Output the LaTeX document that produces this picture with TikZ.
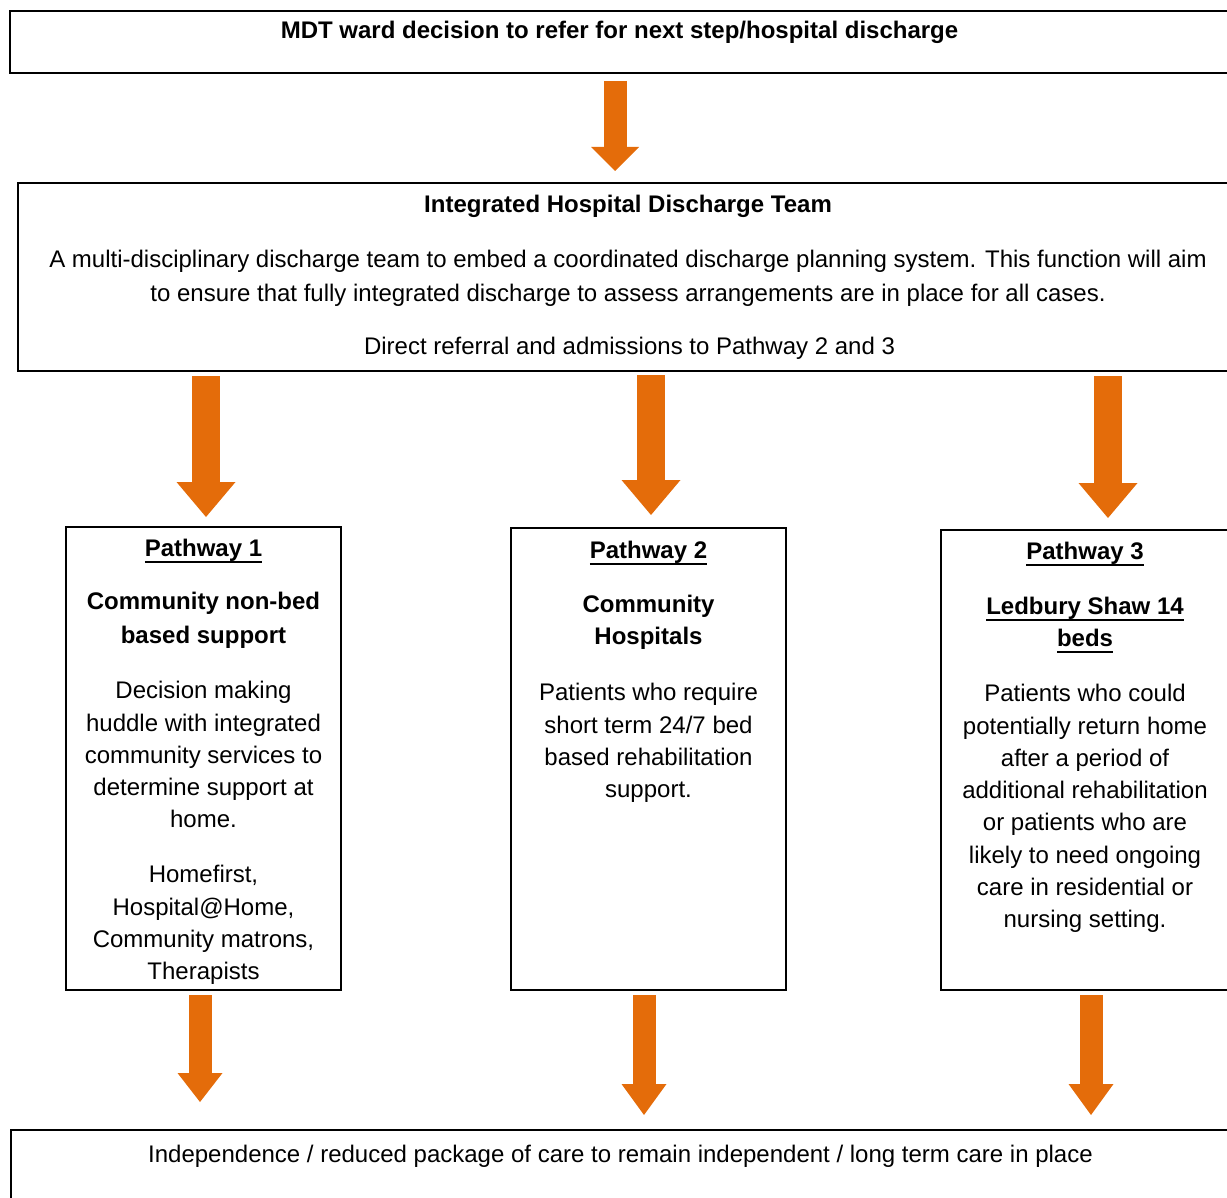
\documentclass[tikz,border=0pt]{standalone}
\usepackage{fontspec}
\setmainfont{Liberation Sans}
\usetikzlibrary{arrows.meta,fit}
\definecolor{arrorange}{RGB}{228,108,10}
\newcommand\myul[1]{\setbox0\hbox{#1}\rlap{\rule[-5.3pt]{\wd0}{1.6pt}}\box0}
\begin{document}
\begin{tikzpicture}[x=0.75pt,y=-0.75pt,
  box/.style={draw, line width=1.1pt, inner sep=0pt},
  txt/.style={font=\fontsize{18}{24.2}\selectfont, align=center, inner sep=0pt},
  txtb/.style={txt, font=\fontsize{18}{24.2}\selectfont\bfseries},
  barrow/.style n args={3}{draw=arrorange, line width=#1, -{Triangle[width=#2, length=#3, line width=0pt]}}]
\useasboundingbox (0,0) rectangle (1227,1198);
\clip (0,0) rectangle (1227,1198);
% boxes
\node[box, fit={(10,11)(1235,73)}] (top) {};
\node[box, fit={(18,183)(1240,371)}] (ihdt) {};
\node[box, fit={(66,527)(341,990)}] (pw1) {};
\node[box, fit={(511,528)(786,990)}] (pw2) {};
\node[box, fit={(941,530)(1235,990)}] (pw3) {};
\node[box, fit={(11,1130)(1235,1215)}] (outc) {};
% texts
\node[txtb, anchor=base] (t1) at (619.5,39) {MDT ward decision to refer for next step/hospital discharge};
\node[txtb, anchor=base] (t2) at (628,213) {Integrated Hospital Discharge Team};
\node[txt, font=\fontsize{18}{25.5}\selectfont, anchor=north] (t3) at (628,243)
  {\strut A multi-disciplinary discharge team to embed a coordinated discharge planning system. This function will aim\\
   \strut to ensure that fully integrated discharge to assess arrangements are in place for all cases.};
\node[txt, anchor=base] (t4) at (629.5,354) {Direct referral and admissions to Pathway 2 and 3};
% pathway 1
\node[txtb, anchor=base] (p1h) at (203.5,556) {\myul{Pathway 1}};
\node[txt, font=\fontsize{18}{25.5}\selectfont\bfseries, anchor=north] (p1t) at (203.5,585)
  {\strut Community non-bed\\ \strut based support};
\node[txt, anchor=north] (p1a) at (203.5,676)
  {\strut Decision making\\ \strut huddle with integrated\\ \strut community services to\\ \strut determine support at\\ \strut home.};
\node[txt, anchor=north] (p1b) at (203.5,860)
  {\strut Homefirst,\\ \strut Hospital@Home,\\ \strut Community matrons,\\ \strut Therapists};
% pathway 2
\node[txtb, anchor=base] (p2h) at (648.5,558) {\myul{Pathway 2}};
\node[txt, font=\fontsize{18}{24}\selectfont\bfseries, anchor=north] (p2t) at (648.5,589.5)
  {\strut Community\\ \strut Hospitals};
\node[txt, anchor=north] (p2a) at (648.5,678)
  {\strut Patients who require\\ \strut short term 24/7 bed\\ \strut based rehabilitation\\ \strut support.};
% pathway 3
\node[txtb, anchor=base] (p3h) at (1085,559) {\myul{Pathway 3}};
\node[txt, font=\fontsize{18}{24}\selectfont\bfseries, anchor=north] (p3t) at (1085,591.5)
  {\strut\myul{Ledbury Shaw 14}\\ \strut\myul{beds}};
\node[txt, anchor=north] (p3a) at (1085,679)
  {\strut Patients who could\\ \strut potentially return home\\ \strut after a period of\\ \strut additional rehabilitation\\ \strut or patients who are\\ \strut likely to need ongoing\\ \strut care in residential or\\ \strut nursing setting.};
% outcome
\node[txt, anchor=base] (t5) at (620.5,1162) {Independence / reduced package of care to remain independent / long term care in place};
% arrow ends
\coordinate (a1s) at (615,81);   \coordinate (a1e) at (615,171);
\coordinate (a2s) at (206,376);  \coordinate (a2e) at (206,517);
\coordinate (a3s) at (651,375);  \coordinate (a3e) at (651,515);
\coordinate (a4s) at (1108,376); \coordinate (a4e) at (1108,518);
\coordinate (a5s) at (200,995);  \coordinate (a5e) at (200,1102);
\coordinate (a6s) at (644,995);  \coordinate (a6e) at (644,1115);
\coordinate (a7s) at (1091,995); \coordinate (a7e) at (1091,1115);
\draw[barrow={17.25pt}{36pt}{18pt}] (a1s) -- (a1e);
\draw[barrow={21.4pt}{44.25pt}{26.25pt}] (a2s) -- (a2e);
\draw[barrow={21.4pt}{44.25pt}{26.25pt}] (a3s) -- (a3e);
\draw[barrow={21.4pt}{44.25pt}{26.25pt}] (a4s) -- (a4e);
\draw[barrow={17.25pt}{33.75pt}{21.75pt}] (a5s) -- (a5e);
\draw[barrow={17.25pt}{33.75pt}{23.25pt}] (a6s) -- (a6e);
\draw[barrow={17.25pt}{33.75pt}{23.25pt}] (a7s) -- (a7e);
\end{tikzpicture}
\end{document}
